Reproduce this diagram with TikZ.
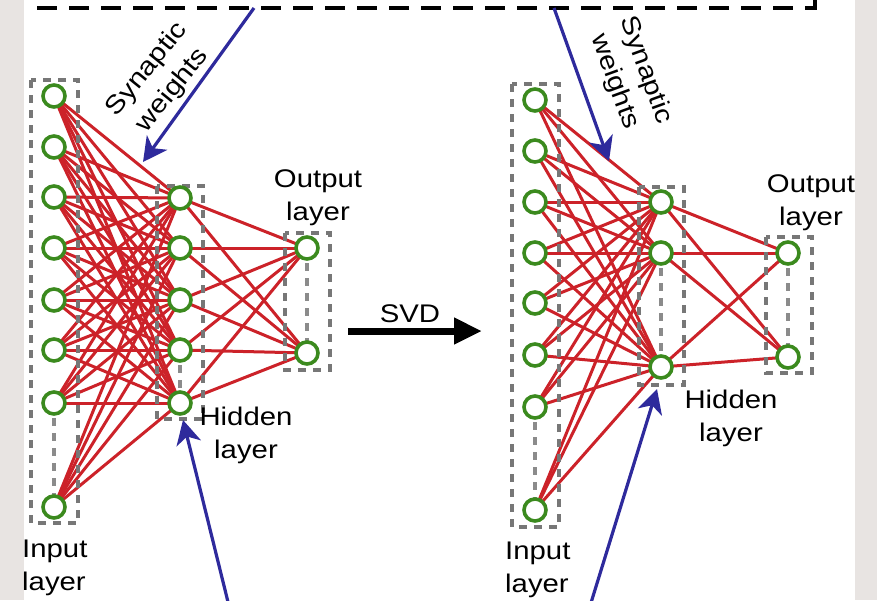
\documentclass[tikz,border=0pt]{standalone}
\usepackage{fontspec}
\setmainfont{Liberation Sans}[FakeStretch=1.15]
\usetikzlibrary{arrows.meta}

\definecolor{synred}{HTML}{CC2229}
\definecolor{nodegreen}{HTML}{3B8A1E}
\definecolor{arrowblue}{HTML}{2E2A9C}
\definecolor{boxgray}{HTML}{777777}
\definecolor{sidegray}{HTML}{E8E4E2}

\begin{document}
\begin{tikzpicture}[x=1pt,y=-1pt,
  neuron/.style={circle, draw=nodegreen, line width=3.6pt, fill=white,
                 minimum size=22pt, inner sep=0pt},
  weight/.style={synred, line width=3pt},
  layerbox/.style={boxgray, line width=3.2pt, dash pattern=on 8pt off 7pt},
  gapline/.style={boxgray!85, line width=3.2pt, dash pattern=on 8pt off 7pt},
  lbl/.style={inner sep=0pt, font=\fontsize{25.5}{33}\selectfont},
  bluearrow/.style={arrowblue, line width=3.2pt,
                    -{Stealth[length=24pt,width=25pt,inset=7pt]}},
  svdarrow/.style={black, line width=7pt,
                   -{Triangle[length=28pt,width=25pt]}}]

\useasboundingbox (0,0) rectangle (877,600);
% side margins
\fill[sidegray] (0,0) rectangle (24,600);
\fill[sidegray] (855,0) rectangle (877,600);

% frame around the weight matrices (continues above the page)
\draw[black, line width=4.2pt, dash pattern=on 20pt off 12pt]
  (33,-20) -- (33,8) -- (815,8) -- (815,-20);

% ---------------- original network ----------------
\foreach \y [count=\i] in {96,147,197,248,300,350,403,507}
  \coordinate (L\i) at (54,\y);
\foreach \y [count=\i] in {198,248,300,350,403}
  \coordinate (H\i) at (180,\y);
\foreach \y [count=\i] in {248,353}
  \coordinate (O\i) at (307,\y);

\foreach \i in {1,...,8}
  \foreach \j in {1,...,5}
    \draw[weight] (L\i) -- (H\j);
\foreach \j in {1,...,5}
  \foreach \k in {1,2}
    \draw[weight] (H\j) -- (O\k);

\draw[layerbox] (31,80) rectangle (78,523);
\draw[layerbox] (157,186) rectangle (203,419);
\draw[layerbox] (285,233) rectangle (330,370);
\draw[gapline] (L7) -- (L8);
\draw[gapline] (H4) -- (H5);
\draw[gapline] (O1) -- (O2);

\foreach \i in {1,...,8} \node[neuron] (nL\i) at (L\i) {};
\foreach \j in {1,...,5} \node[neuron] (nH\j) at (H\j) {};
\foreach \k in {1,2} \node[neuron] (nO\k) at (O\k) {};

% ---------------- compressed network ----------------
\foreach \y [count=\i] in {100,151,202,253,303,355,407,510}
  \coordinate (R\i) at (535,\y);
\foreach \y [count=\i] in {202,253,367}
  \coordinate (S\i) at (661,\y);
\foreach \y [count=\i] in {253,357}
  \coordinate (T\i) at (788,\y);

\foreach \i in {1,...,8}
  \foreach \j in {1,2,3}
    \draw[weight] (R\i) -- (S\j);
\foreach \j in {1,2,3}
  \foreach \k in {1,2}
    \draw[weight] (S\j) -- (T\k);

\draw[layerbox] (512,84) rectangle (559,527);
\draw[layerbox] (639,187) rectangle (684,385);
\draw[layerbox] (766,237) rectangle (812,373);
\draw[gapline] (R7) -- (R8);
\draw[gapline] (S2) -- (S3);
\draw[gapline] (T1) -- (T2);

\foreach \i in {1,...,8} \node[neuron] (nR\i) at (R\i) {};
\foreach \j in {1,2,3} \node[neuron] (nS\j) at (S\j) {};
\foreach \k in {1,2} \node[neuron] (nT\k) at (T\k) {};

% ---------------- labels ----------------
\node[lbl, align=center] (outL) at (318,198) {Output\\layer};
\node[lbl, align=center] (hidL) at (246,435) {Hidden\\layer};
\node[lbl, align=left, anchor=west] (inL) at (22,568) {Input\\layer};
\node[lbl, align=center] (outR) at (811,203) {Output\\layer};
\node[lbl, align=center] (hidR) at (731,418) {Hidden\\layer};
\node[lbl, align=left, anchor=west] (inR) at (505,570) {Input\\layer};
\node[lbl, align=center, rotate=51] (synL) at (160,80) {Synaptic\\weights};
\node[lbl, align=center, rotate=-70] (synR) at (630,76) {Synaptic\\weights};
\node[lbl] (svd) at (410,314) {SVD};

% ---------------- arrows ----------------
\coordinate (svdA) at (348,331);
\coordinate (svdB) at (482,331);
\draw[svdarrow] (svdA) -- (svdB);

\coordinate (topL) at (254,8);
\coordinate (tipTL) at (143,162);
\coordinate (topR) at (554,8);
\coordinate (tipTR) at (609,161);
\coordinate (botL) at (229,606);
\coordinate (tipBL) at (183,420);
\coordinate (botR) at (590,606);
\coordinate (tipBR) at (657,389);
\draw[bluearrow] (topL) -- (tipTL);
\draw[bluearrow] (topR) -- (tipTR);
\draw[bluearrow] (botL) -- (tipBL);
\draw[bluearrow] (botR) -- (tipBR);
\end{tikzpicture}
\end{document}
